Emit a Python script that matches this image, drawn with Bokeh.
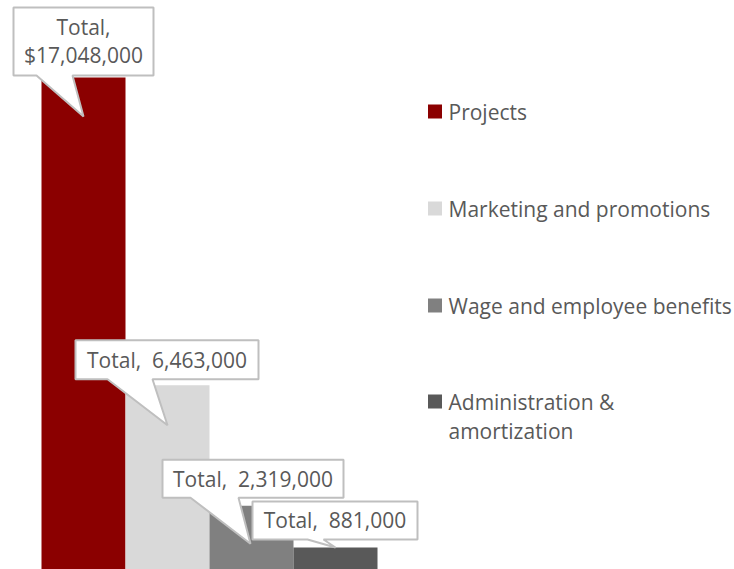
from bokeh.plotting import figure
from bokeh.models import Range1d
from bokeh.core.properties import value
from bokeh.embed import file_html
from bokeh.resources import INLINE

# ---- data ----
categories = ["Projects", "Marketing and promotions", "Wage and employee benefits", "Administration &\namortization"]
totals = [17048000, 6463000, 2319000, 881000]
colors = ["#8b0000", "#d9d9d9", "#808080", "#595959"]
labels = ["Total,\n$17,048,000", "Total, \u00a06,463,000", "Total, \u00a02,319,000", "Total, \u00a0881,000"]

# ---- layout (pixels) ----
W, H = 734, 569
BAR_PX = 84.0
x_start = -0.5 - 41 / BAR_PX
x_end = x_start + W / BAR_PX
k = 470.0 / (17048000 - 881000)          # px per unit
base_page = 572.6
y_end = base_page / k
y_start = (base_page - H) / k
PX_X = 1.0 / BAR_PX
PX_Y = (y_end - y_start) / H


def X(px):
    return x_start + px * PX_X


def Y(py):
    return y_end - py * PX_Y


# callout geometry offsets (px, relative to bar centre / bar top; down positive)
box_l = [-70, -92, -89, -83]
box_r = [70, 91, 92, 82]
box_t = [-70, -45, -46, -46]
box_b = [-2, -6, -8, -8]
base_1 = [-47, -60, -61, -28]
base_2 = [-11, -15, -13, -12]
tip_dx = [0, 0, -1, 0]
tip_dy = [39, 40, 38, 0]

# legend layout (px)
leg_sq_x = 434.5
leg_txt_x = 448
leg_y = [111, 208, 305, 416]

p = figure(width=W, height=H, output_backend="svg", toolbar_location=None,
           x_range=Range1d(x_start, x_end), y_range=Range1d(y_start, y_end),
           x_axis_type=None, y_axis_type=None)
p.min_border = 0
p.min_border_left = 0
p.min_border_right = 0
p.min_border_top = 0
p.min_border_bottom = 0
p.outline_line_color = None
p.grid.visible = False
p.background_fill_color = "white"
p.border_fill_color = "white"

xs = list(range(len(totals)))
p.vbar(x=xs, top=totals, bottom=0, width=1.0, fill_color=colors, line_color=None)

font = value("Open Sans")
for i in xs:
    cx, cy = xs[i], totals[i]

    def pt(dx, dy):
        return (cx + dx * PX_X, cy - dy * PX_Y)

    poly = [pt(box_l[i], box_t[i]), pt(box_r[i], box_t[i]), pt(box_r[i], box_b[i]),
            pt(base_2[i], box_b[i]), pt(tip_dx[i], tip_dy[i]), pt(base_1[i], box_b[i]),
            pt(box_l[i], box_b[i])]
    p.patch([q[0] for q in poly], [q[1] for q in poly], fill_color="white",
            line_color="#bfbfbf", line_width=2)
    tx = cx + (box_l[i] + box_r[i]) / 2 * PX_X
    ty = cy - (box_t[i] + box_b[i]) / 2 * PX_Y
    p.text(x=[tx], y=[ty], text=[labels[i]], text_align="center", text_baseline="middle",
           text_font=font, text_font_size="21px", text_color="#595959", text_line_height=1.0)

# legend (drawn manually so the multi-line entry keeps its square beside the first line)
sq_y = [leg_y[0], leg_y[1], leg_y[2], leg_y[3] - 15]
p.scatter(x=[X(leg_sq_x)] * 4, y=[Y(v) for v in sq_y], marker="square", size=14,
          fill_color=colors, line_color=None)
p.text(x=[X(leg_txt_x)] * 4, y=[Y(v) for v in leg_y], text=categories,
       text_align="left", text_baseline="middle", text_font=font, text_font_size="21px",
       text_color="#595959", text_line_height=1.05)

open("out.html", "w").write(file_html(p, INLINE))
